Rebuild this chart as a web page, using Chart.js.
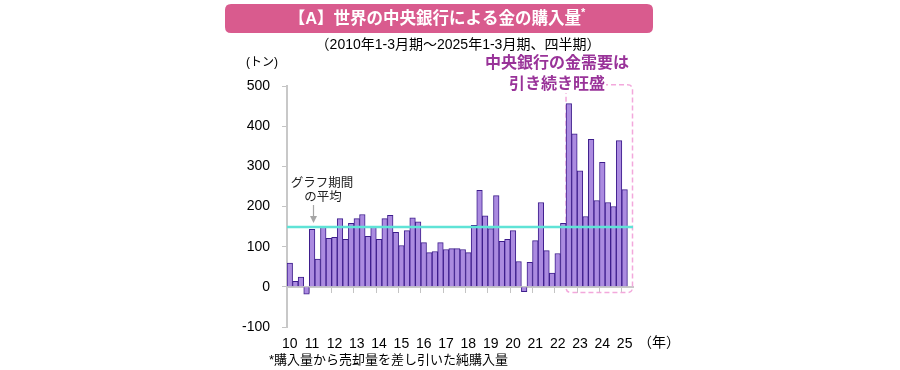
<!DOCTYPE html>
<html><head><meta charset="utf-8">
<script src="https://cdn.jsdelivr.net/npm/chart.js@4/dist/chart.umd.min.js"></script>
<style>html,body{margin:0;padding:0;background:#fff;overflow:hidden}#c{display:block}</style>
</head><body>
<canvas id="c" width="900" height="370"></canvas>
<script>
// ---- data ----
const quarterLabels = [
 '10Q1','10Q2','10Q3','10Q4','11Q1','11Q2','11Q3','11Q4','12Q1','12Q2','12Q3','12Q4',
 '13Q1','13Q2','13Q3','13Q4','14Q1','14Q2','14Q3','14Q4','15Q1','15Q2','15Q3','15Q4',
 '16Q1','16Q2','16Q3','16Q4','17Q1','17Q2','17Q3','17Q4','18Q1','18Q2','18Q3','18Q4',
 '19Q1','19Q2','19Q3','19Q4','20Q1','20Q2','20Q3','20Q4','21Q1','21Q2','21Q3','21Q4',
 '22Q1','22Q2','22Q3','22Q4','23Q1','23Q2','23Q3','23Q4','24Q1','24Q2','24Q3','24Q4',
 '25Q1'];
const purchases = [
 59,14,24,-18, 143,69,148,121, 123,170,118,158, 170,180,126,150,
 118,170,178,136, 103,140,172,162, 110,85,88,110, 93,95,95,93,
 85,153,240,177, 145,227,113,118, 140,63,-12,61, 115,210,90,34,
 83,158,456,381, 289,175,367,215, 310,210,200,364, 242];
const yearTickLabels = ['10','11','12','13','14','15','16','17','18','19','20','21','22','23','24','25'];
const averageValue = 149;
const highlightFromIndex = 50;   // 2022 Q3
const highlightTop = 503, highlightBottom = -14;

const titleText = '【A】世界の中央銀行による金の購入量';
const subtitleText = '（2010年1-3月期～2025年1-3月期、四半期）';
const unitText = '(トン)';
const yearUnitText = '（年）';
const noteText = '*購入量から売却量を差し引いた純購入量';
const avgLabel = ['グラフ期間', 'の平均'];
const calloutLines = ['中央銀行の金需要は', '引き続き旺盛'];

const FONT = "'Liberation Sans', Arial, 'Noto Sans CJK JP', sans-serif";
Chart.defaults.font.family = FONT;
Chart.defaults.color = '#000';

function rrect(ctx, x, y, w, h, r) {
  ctx.beginPath();
  ctx.moveTo(x + r, y);
  ctx.lineTo(x + w - r, y); ctx.quadraticCurveTo(x + w, y, x + w, y + r);
  ctx.lineTo(x + w, y + h - r); ctx.quadraticCurveTo(x + w, y + h, x + w - r, y + h);
  ctx.lineTo(x + r, y + h); ctx.quadraticCurveTo(x, y + h, x, y + h - r);
  ctx.lineTo(x, y + r); ctx.quadraticCurveTo(x, y, x + r, y);
  ctx.closePath();
}

const deco = {
  id: 'deco',
  beforeDatasetsDraw(chart) {
    const ctx = chart.ctx, xs = chart.scales.x, ys = chart.scales.y, ca = chart.chartArea;
    const bw = xs.getPixelForValue(1) - xs.getPixelForValue(0);
    const left = xs.getPixelForValue(highlightFromIndex) - bw / 2;
    const right = ca.right - 0.5;
    const top = ys.getPixelForValue(highlightTop), bottom = ys.getPixelForValue(highlightBottom);
    ctx.save();
    ctx.strokeStyle = '#f3a8dc';
    ctx.lineWidth = 1.5;
    ctx.setLineDash([5, 3]);
    rrect(ctx, left, top, right - left, bottom - top, 5);
    ctx.stroke();
    ctx.restore();
  },
  afterDatasetsDraw(chart) {
    const ctx = chart.ctx, ys = chart.scales.y, ca = chart.chartArea;
    const y = ys.getPixelForValue(averageValue);
    ctx.save();
    ctx.strokeStyle = '#5fe3d6';
    ctx.lineWidth = 2.5;
    ctx.beginPath(); ctx.moveTo(ca.left, y); ctx.lineTo(ca.right, y); ctx.stroke();
    ctx.restore();
  },
  afterDraw(chart) {
    const ctx = chart.ctx;
    ctx.save();
    // title box
    ctx.fillStyle = '#d95b8e';
    rrect(ctx, 225, 4, 428, 29, 6); ctx.fill();
    ctx.fillStyle = '#fff';
    ctx.font = "bold 16.5px " + FONT;
    ctx.textBaseline = 'middle';
    const tw = ctx.measureText(titleText).width;
    ctx.font = "bold 11px " + FONT;
    const aw = ctx.measureText('*').width;
    const tx = 437 - (tw + aw) / 2;
    ctx.font = "bold 16.5px " + FONT;
    ctx.textAlign = 'left';
    ctx.fillText(titleText, tx, 19);
    ctx.font = "bold 11px " + FONT;
    ctx.fillText('*', tx + tw, 13);
    // subtitle
    ctx.fillStyle = '#000';
    ctx.textAlign = 'center';
    ctx.font = "14px " + FONT;
    ctx.fillText(subtitleText, 458, 45);
    // unit
    ctx.font = "12px " + FONT;
    ctx.fillText(unitText, 262, 63);
    // year unit
    ctx.font = "14px " + FONT;
    ctx.fillText(yearUnitText, 659, 343);
    // note
    ctx.textAlign = 'left';
    ctx.font = "13px " + FONT;
    ctx.fillText(noteText, 269, 360);
    // average label + arrow
    ctx.textAlign = 'center';
    ctx.fillStyle = '#222';
    ctx.font = "12.5px " + FONT;
    ctx.fillText(avgLabel[0], 322, 184);
    ctx.fillText(avgLabel[1], 323, 198);
    ctx.strokeStyle = '#a6a6a6'; ctx.fillStyle = '#a6a6a6'; ctx.lineWidth = 1.2;
    ctx.beginPath(); ctx.moveTo(313.5, 205); ctx.lineTo(313.5, 218); ctx.stroke();
    ctx.beginPath(); ctx.moveTo(310, 216); ctx.lineTo(317, 216); ctx.lineTo(313.5, 223); ctx.closePath(); ctx.fill();
    // callout
    ctx.fillStyle = '#fff';
    ctx.fillRect(478, 52, 128, 41);
    ctx.fillStyle = '#993399';
    ctx.font = "bold 16px " + FONT;
    ctx.fillText(calloutLines[0], 557, 64);
    ctx.fillText(calloutLines[1], 557, 85);
    ctx.restore();
  }
};

new Chart(document.getElementById('c'), {
  type: 'bar',
  data: {
    labels: [...quarterLabels, ''],
    datasets: [{
      data: purchases,
      backgroundColor: '#ab8be0',
      borderColor: '#3d1d8c',
      borderWidth: 1,
      barPercentage: 1,
      categoryPercentage: 1
    }]
  },
  options: {
    responsive: false,
    animation: false,
    events: [],
    layout: { padding: { top: 86, right: 267, left: 0, bottom: 0 } },
    plugins: { legend: { display: false }, tooltip: { enabled: false } },
    scales: {
      y: {
        min: -100, max: 500,
        ticks: { stepSize: 100, font: { size: 14 }, color: '#000', padding: 12 },
        grid: { drawOnChartArea: false, drawTicks: true, tickLength: 5, color: '#c4c4c4' },
        border: { color: '#c8c8c8', width: 2 },
        afterFit(s) { s.width = 287; }
      },
      x: {
        type: 'category',
        offset: true,
        ticks: {
          autoSkip: false, maxRotation: 0, minRotation: 0,
          font: { size: 14 }, color: '#000', padding: 9,
          callback: (v, i) => (i % 4 === 0 ? (yearTickLabels[i / 4] || '') : '')
        },
        grid: { display: false, drawTicks: false },
        border: { display: false },
        afterFit(s) { s.height = 43; }
      },
      xz: {
        type: 'category',
        position: { y: 0 },
        offset: true,
        z: 1,
        ticks: { display: false },
        grid: {
          offset: true, drawOnChartArea: false, drawTicks: true, tickLength: 5,
          color: (c) => (c.index !== undefined && c.index > 0 && c.index <= 60 && c.index % 4 === 0) ? '#c4c4c4' : 'rgba(0,0,0,0)'
        },
        border: { color: '#c8c8c8', width: 2 }
      }
    }
  },
  plugins: [deco]
});
</script>
</body></html>
